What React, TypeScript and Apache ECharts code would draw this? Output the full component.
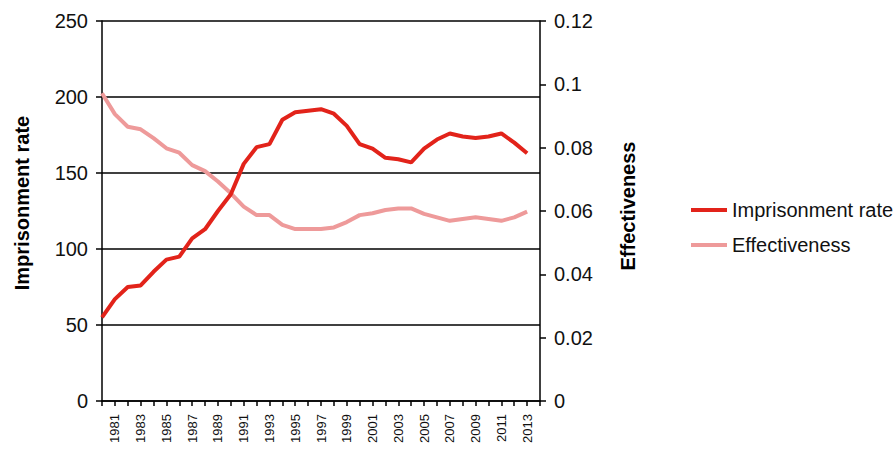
import React, { useEffect, useRef } from "react";
import * as echarts from "echarts";

const years: string[] = [];
for (let y = 1980; y <= 2014; y++) years.push(String(y));

const imprisonmentRate: (number | null)[] = [
  55, 67, 75, 76, 85, 93, 95, 107, 113, 125, 136, 156, 167, 169, 185, 190, 191, 192,
  189, 181, 169, 166, 160, 159, 157, 166, 172, 176, 174, 173, 174, 176, 170, 163, null,
];

const effectiveness: (number | null)[] = [
  0.0972, 0.0906, 0.0866, 0.0858, 0.083, 0.0798, 0.0784, 0.0745, 0.0726, 0.0693, 0.0656,
  0.0614, 0.0587, 0.0587, 0.0556, 0.0543, 0.0543, 0.0543, 0.0548, 0.0565, 0.0587, 0.0593,
  0.0603, 0.0608, 0.0608, 0.0591, 0.058, 0.0569, 0.0575, 0.058, 0.0575, 0.0569, 0.058,
  0.0598, null,
];

const FONT = "'Liberation Sans', Arial, sans-serif";
const RED = "#E2231A";
const PINK = "#EE9A9A";

export default function App() {
  const ref = useRef<HTMLDivElement>(null);
  useEffect(() => {
    if (!ref.current) return;
    const chart = echarts.init(ref.current, null, { renderer: "svg" });
    chart.setOption({
      animation: false,
      textStyle: { fontFamily: FONT },
      grid: { left: 102, right: 354, top: 21, bottom: 53, containLabel: false },
      legend: {
        orient: "vertical",
        left: 686,
        top: 195,
        icon: "rect",
        itemWidth: 36,
        itemHeight: 4,
        itemGap: 15,
        textStyle: { fontFamily: FONT, fontSize: 20, color: "#111", lineHeight: 20 },
        data: ["Imprisonment rate", "Effectiveness"],
      },
      xAxis: {
        type: "category",
        data: years,
        boundaryGap: false,
        axisLine: { show: true, lineStyle: { color: "#000", width: 1.5 } },
        axisTick: { show: true, interval: 0, length: 5, lineStyle: { color: "#000", width: 1.5 } },
        axisLabel: {
          rotate: 90,
          interval: (i: number) => i % 2 === 1,
          margin: 13,
          fontFamily: FONT,
          fontSize: 13,
          color: "#111",
        },
        splitLine: { show: false },
      },
      yAxis: [
        {
          type: "value",
          min: 0,
          max: 250,
          interval: 50,
          name: "Imprisonment rate",
          nameLocation: "middle",
          nameRotate: 90,
          nameGap: 70,
          nameTextStyle: {
            fontFamily: FONT,
            fontSize: 20,
            fontWeight: "bold",
            color: "#000",
            padding: [0, 0, 0, 16],
          },
          axisLine: { show: true, lineStyle: { color: "#000", width: 1.5 } },
          axisTick: { show: true, length: 6, lineStyle: { color: "#000", width: 1.5 } },
          axisLabel: { margin: 14, fontFamily: FONT, fontSize: 20, color: "#111" },
          splitLine: { show: true, lineStyle: { color: "#000", width: 1.5 } },
        },
        {
          type: "value",
          min: 0,
          max: 0.12,
          interval: 0.02,
          position: "right",
          name: "Effectiveness",
          nameLocation: "middle",
          nameRotate: 90,
          nameGap: 78,
          nameTextStyle: {
            fontFamily: FONT,
            fontSize: 20,
            fontWeight: "bold",
            color: "#000",
            padding: [0, 0, 0, 10],
          },
          axisLine: { show: true, lineStyle: { color: "#000", width: 1.5 } },
          axisTick: { show: true, length: 6, lineStyle: { color: "#000", width: 1.5 } },
          axisLabel: {
            margin: 14,
            fontFamily: FONT,
            fontSize: 20,
            color: "#111",
            formatter: (v: number) => String(parseFloat(v.toFixed(2))),
          },
          splitLine: { show: false },
        },
      ],
      series: [
        {
          name: "Effectiveness",
          type: "line",
          yAxisIndex: 1,
          data: effectiveness,
          symbol: "none",
          lineStyle: { color: PINK, width: 4 },
          itemStyle: { color: PINK },
          z: 2,
        },
        {
          name: "Imprisonment rate",
          type: "line",
          yAxisIndex: 0,
          data: imprisonmentRate,
          symbol: "none",
          lineStyle: { color: RED, width: 4 },
          itemStyle: { color: RED },
          z: 3,
        },
      ],
    });
    return () => chart.dispose();
  }, []);
  return (
    <div
      ref={ref}
      style={{ position: "fixed", left: 0, top: 0, width: 894, height: 454, background: "#fff" }}
    />
  );
}
